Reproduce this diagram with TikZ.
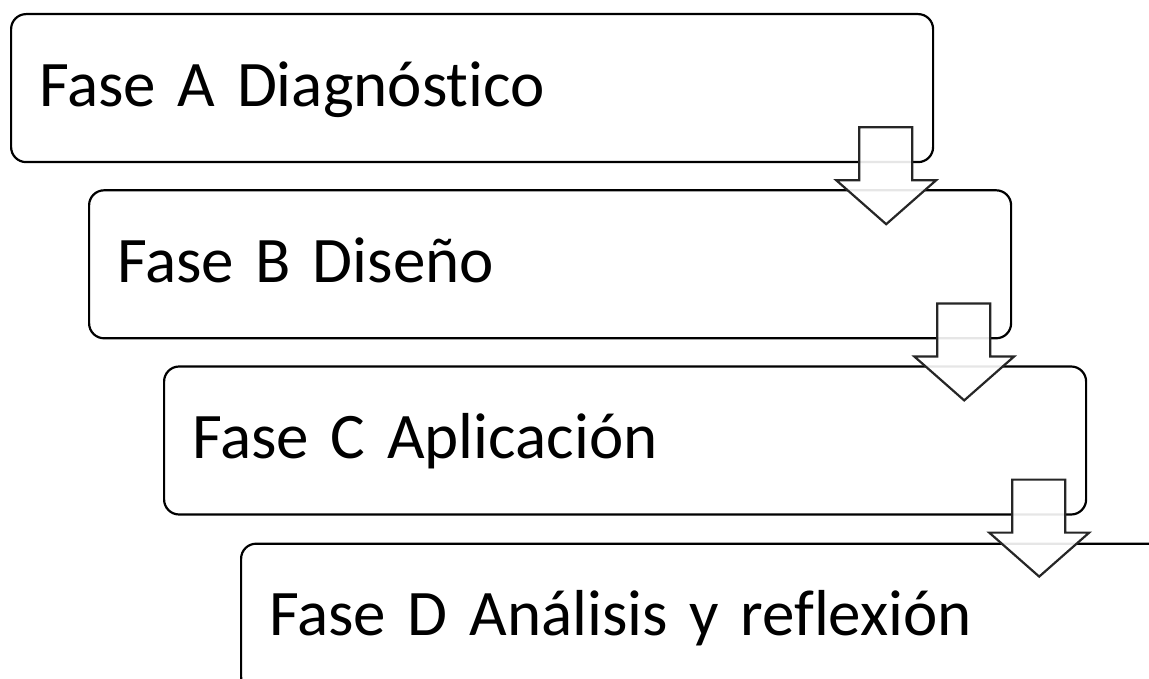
\documentclass[tikz,border=0pt]{standalone}
\usepackage{fontspec}
\setmainfont[Ligatures=CommonOff]{Carlito}
\usetikzlibrary{positioning, calc}
\newcommand{\phasefont}{\fontsize{65}{78}\selectfont\spaceskip=10pt\relax}

\begin{document}
\begin{tikzpicture}[
    phase/.style={draw, line width=2.2pt, rounded corners=15pt, anchor=north west,
      minimum width=922pt, minimum height=148pt, text width=866pt, inner xsep=28pt, inner ysep=0pt,
      text height=36pt, text depth=0pt, align=left, font=\phasefont},
    downarrow/.style={draw=black!85, line width=2.2pt, fill=white, fill opacity=0.9, line join=miter}
  ]
  \useasboundingbox (0,0) rectangle (1149pt,-679pt);
  \clip (0,0) rectangle (1149pt,-679pt);

  % Phases
  \node[phase] (fa) at (10pt,-13pt) {Fase A Diagnóstico};
  \node[phase, below=26pt of fa.south west, anchor=north west, xshift=78pt] (fb) {Fase B Diseño};
  \node[phase, below=26pt of fb.south west, anchor=north west, xshift=75pt] (fc) {Fase C Aplicación};
  \node[phase, below=27pt of fc.south west, anchor=north west, xshift=77pt] (fd) {Fase D Análisis y reflexión};

  % Arrows between phases
  \foreach \src in {fa, fb, fc} {
    \draw[downarrow] let \p1 = (\src.south east) in
      (\x1-75pt,\y1+36pt) -- (\x1-22pt,\y1+36pt) -- (\x1-22pt,\y1-17pt) -- (\x1+2pt,\y1-17pt)
      -- (\x1-48pt,\y1-61pt) -- (\x1-98pt,\y1-17pt) -- (\x1-75pt,\y1-17pt) -- cycle;
  }

\end{tikzpicture}
\end{document}
